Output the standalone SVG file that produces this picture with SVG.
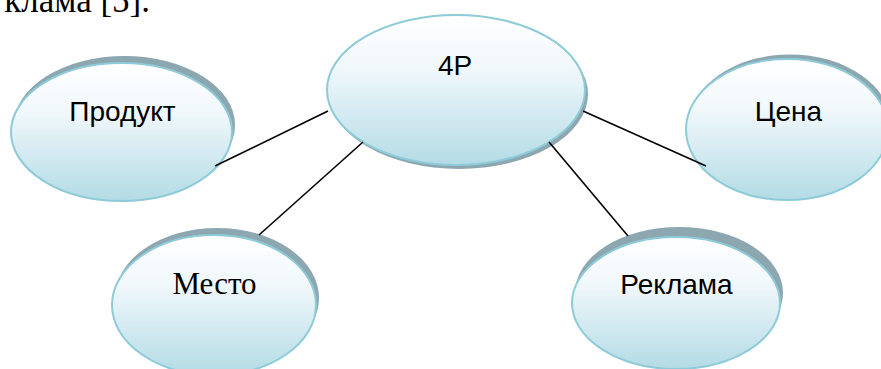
<svg xmlns="http://www.w3.org/2000/svg" width="881" height="369" viewBox="0 0 881 369">
<defs>
<linearGradient id="g" x1="0" y1="0" x2="0" y2="1">
<stop offset="0" stop-color="#ffffff"/>
<stop offset="0.35" stop-color="#f1f8fb"/>
<stop offset="1" stop-color="#b3dbe5"/>
</linearGradient>
<style>
.sh{fill:#8da7b1}
.el{fill:url(#g);stroke:#8ecbd9;stroke-width:2}
.t{font-family:"Liberation Sans",Arial,sans-serif;font-size:28px;fill:#000;text-anchor:middle}
.tr{font-family:"Liberation Serif","Times New Roman",serif;font-size:31px;fill:#000;text-anchor:middle}
.c{stroke:#000;stroke-width:1.6;fill:none}
</style>
</defs>
<rect width="881" height="369" fill="#fff"/>
<text x="150" y="12" font-family="Liberation Serif,'Times New Roman',serif" font-size="35" text-anchor="end">клама [5].</text>
<g id="node-4p">
<ellipse class="sh" cx="459" cy="94" rx="129" ry="75"/>
<ellipse class="el" cx="456" cy="90" rx="129" ry="75"/>
<text class="t" x="455" y="75">4P</text>
</g>
<g id="node-produkt">
<ellipse class="sh" cx="124.5" cy="125" rx="110.5" ry="69"/>
<ellipse class="el" cx="121.5" cy="132" rx="110.5" ry="69"/>
<text class="t" x="122.5" y="121">Продукт</text>
</g>
<g id="node-tsena">
<ellipse class="sh" cx="790" cy="125" rx="101" ry="70.5"/>
<ellipse class="el" cx="787" cy="129.5" rx="101" ry="70.5"/>
<text class="t" x="788.5" y="120.5">Цена</text>
</g>
<g id="node-mesto">
<ellipse class="sh" cx="217" cy="298" rx="102" ry="70"/>
<ellipse class="el" cx="214" cy="305" rx="102" ry="70"/>
<text class="tr" x="214.5" y="294">Место</text>
</g>
<g id="node-reklama">
<ellipse class="sh" cx="679" cy="293" rx="104" ry="66"/>
<ellipse class="el" cx="676" cy="303" rx="104" ry="66"/>
<text class="t" x="676.5" y="294">Реклама</text>
</g>
<g id="connectors">
<line class="c" x1="215" y1="166" x2="328" y2="111"/>
<line class="c" x1="363" y1="142" x2="259" y2="235"/>
<line class="c" x1="583" y1="111" x2="706" y2="166"/>
<line class="c" x1="549" y1="142" x2="628" y2="236"/>
</g>
</svg>
